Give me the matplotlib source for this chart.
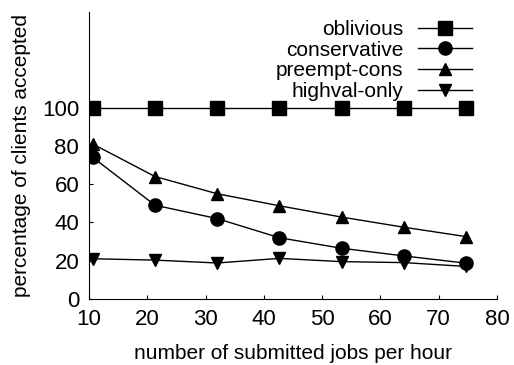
import matplotlib
matplotlib.use("Agg")
import matplotlib.pyplot as plt

plt.rcParams['font.family'] = ['Liberation Sans', 'DejaVu Sans']

# jobs per hour
jobs = [10.67, 21.33, 32.0, 42.67, 53.33, 64.0, 74.67]

oblivious = [100, 100, 100, 100, 100, 100, 100]
conservative = [74, 49, 42, 32, 26.5, 22.5, 18.7]
preempt_cons = [81, 64, 55, 48.7, 42.8, 37.5, 32.6]
highval_only = [21, 20.3, 18.8, 21.2, 19.5, 19, 17]

xticks = [10, 20, 30, 40, 50, 60, 70, 80]
yticks = [0, 20, 40, 60, 80, 100]

fig = plt.figure(figsize=(5.14, 3.65), dpi=100)
ax = fig.add_axes([0.173, 0.181, 0.794, 0.786])

ax.plot(jobs, oblivious, color='black', lw=1, marker='s', ms=10, label='oblivious')
ax.plot(jobs, conservative, color='black', lw=1, marker='o', ms=9.5, label='conservative')
ax.plot(jobs, preempt_cons, color='black', lw=1, marker='^', ms=8, label='preempt-cons')
ax.plot(jobs, highval_only, color='black', lw=1, marker='v', ms=8, label='highval-only')

ax.set_xlim(10, 80)
ax.set_ylim(0, 150)
ax.set_xticks(xticks)
ax.set_yticks(yticks)
ax.spines['top'].set_visible(False)
ax.spines['right'].set_visible(False)
ax.tick_params(direction='in', labelsize=16, length=3, pad=7)

ax.set_xlabel('number of submitted jobs per hour', fontsize=15, labelpad=10)
ax.set_ylabel('percentage of clients accepted', fontsize=15, labelpad=8)

ax.legend(loc='upper right', frameon=False, markerfirst=False, fontsize=15,
          handlelength=2.6, handletextpad=0.7, labelspacing=0.08,
          borderaxespad=0, borderpad=0,
          bbox_to_anchor=(472 / 514, 0.945), bbox_transform=fig.transFigure)

fig.savefig('out.png', dpi=100)
